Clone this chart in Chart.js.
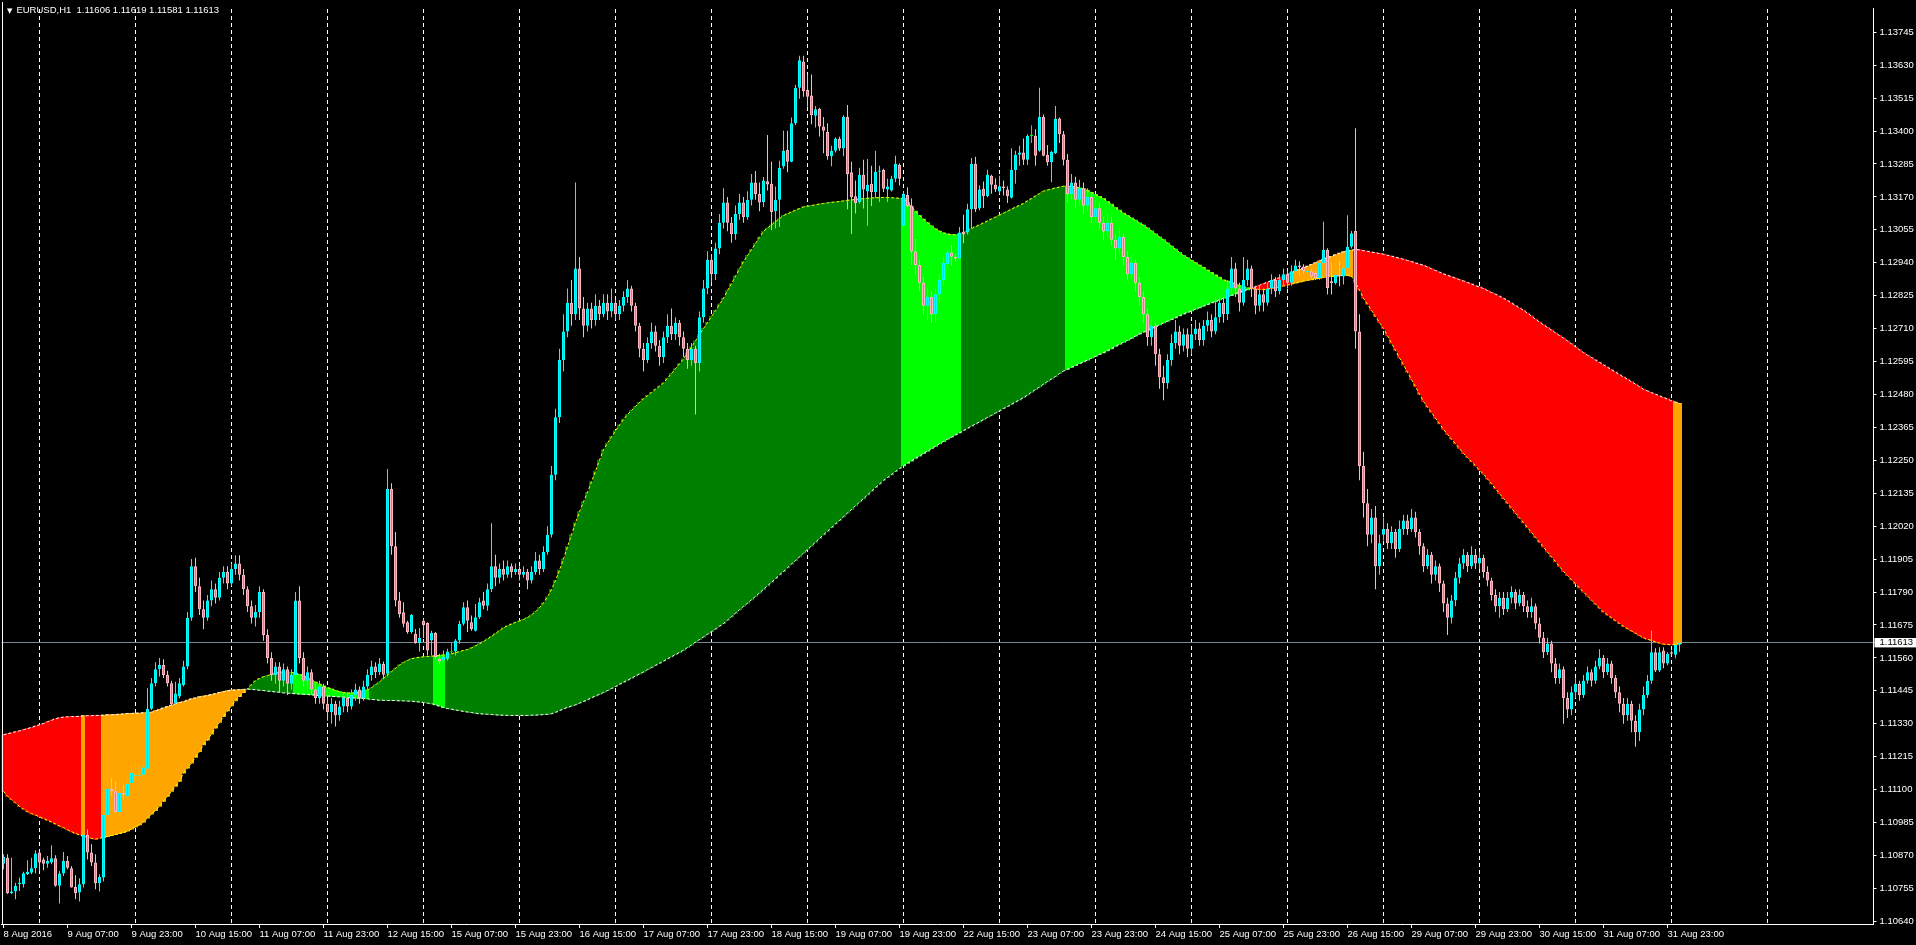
<!DOCTYPE html>
<html>
<head>
<meta charset="utf-8">
<script src="https://cdn.jsdelivr.net/npm/chart.js@4.4.1/dist/chart.umd.min.js"></script>
<style>
  html, body { margin:0; padding:0; background:#000; overflow:hidden; }
  #wrap { position:relative; width:1916px; height:945px; }
  #title { position:absolute; left:7px; top:4px; color:#fff; font:9.5px "Liberation Sans", Arial, sans-serif; white-space:pre; }
  #title .arrow { font:7px "DejaVu Sans", sans-serif; margin-right:4px; }
</style>
</head>
<body>
<div id="wrap">
  <canvas id="chart" width="1916" height="945"></canvas>
  <div id="title"><span class="arrow">▼</span>EURUSD,H1  1.11606 1.11619 1.11581 1.11613</div>
</div>
<script>
// ---- data ----
const tickLabels = ["8 Aug 2016","9 Aug 07:00","9 Aug 23:00","10 Aug 15:00","11 Aug 07:00","11 Aug 23:00",
  "12 Aug 15:00","15 Aug 07:00","15 Aug 23:00","16 Aug 15:00","17 Aug 07:00","17 Aug 23:00","18 Aug 15:00",
  "19 Aug 07:00","19 Aug 23:00","22 Aug 15:00","23 Aug 07:00","23 Aug 23:00","24 Aug 15:00","25 Aug 07:00",
  "25 Aug 23:00","26 Aug 15:00","29 Aug 07:00","29 Aug 23:00","30 Aug 15:00","31 Aug 07:00","31 Aug 23:00"];

const priceTicks = [1.10640,1.10755,1.10870,1.10985,1.11100,1.11215,1.11330,1.11445,1.11560,1.11675,1.11790,
  1.11905,1.12020,1.12135,1.12250,1.12365,1.12480,1.12595,1.12710,1.12825,1.12940,1.13055,1.13170,1.13285,
  1.13400,1.13515,1.13630,1.13745];
const lastPrice = 1.11613;

const opens = [
  1.10841,1.10862,1.10738,1.10744,1.10769,1.10769,1.10805,1.10810,1.10825,1.10880,
  1.10856,1.10841,1.10845,1.10860,1.10764,1.10807,1.10851,1.10825,1.10760,1.10741,
  1.10769,1.10941,1.10880,1.10845,1.10773,1.10793,1.11011,1.11103,1.11094,1.11022,
  1.11088,1.11077,1.11123,1.11148,1.11148,1.11152,1.11173,1.11382,1.11471,1.11520,
  1.11535,1.11500,1.11471,1.11402,1.11425,1.11465,1.11530,1.11700,1.11880,1.11810,
  1.11730,1.11700,1.11760,1.11800,1.11770,1.11840,1.11860,1.11820,1.11870,1.11890,
  1.11850,1.11800,1.11740,1.11700,1.11720,1.11790,1.11640,1.11560,1.11500,1.11530,
  1.11480,1.11520,1.11470,1.11500,1.11760,1.11560,1.11480,1.11510,1.11450,1.11420,
  1.11460,1.11400,1.11370,1.11400,1.11360,1.11390,1.11420,1.11390,1.11430,1.11450,
  1.11420,1.11460,1.11500,1.11530,1.11510,1.11539,1.11505,1.12150,1.11950,1.11760,
  1.11719,1.11684,1.11650,1.11644,1.11612,1.11690,1.11682,1.11621,1.11647,1.11557,
  1.11551,1.11557,1.11580,1.11582,1.11621,1.11679,1.11737,1.11684,1.11655,1.11702,
  1.11760,1.11742,1.11800,1.11880,1.11840,1.11870,1.11850,1.11880,1.11860,1.11870,
  1.11850,1.11860,1.11830,1.11860,1.11900,1.11870,1.11930,1.11990,1.12200,1.12400,
  1.12600,1.12700,1.12800,1.12760,1.12920,1.12780,1.12720,1.12780,1.12740,1.12790,
  1.12760,1.12800,1.12770,1.12800,1.12760,1.12790,1.12820,1.12850,1.12790,1.12720,
  1.12640,1.12600,1.12660,1.12700,1.12650,1.12610,1.12680,1.12720,1.12690,1.12730,
  1.12680,1.12640,1.12600,1.12640,1.12590,1.12750,1.12850,1.12950,1.12900,1.12990,
  1.13080,1.13150,1.13080,1.13040,1.13110,1.13150,1.13100,1.13160,1.13220,1.13180,
  1.13152,1.13225,1.13216,1.13120,1.13160,1.13276,1.13335,1.13293,1.13427,1.13551,
  1.13643,1.13543,1.13524,1.13453,1.13478,1.13416,1.13397,1.13312,1.13331,1.13372,
  1.13339,1.13449,1.13256,1.13172,1.13152,1.13247,1.13189,1.13216,1.13187,1.13258,
  1.13264,1.13196,1.13192,1.13233,1.13281,1.13069,1.13177,1.13140,1.12979,1.12932,
  1.12870,1.12790,1.12820,1.12760,1.12830,1.12880,1.12935,1.12976,1.12961,1.12955,
  1.13048,1.13046,1.13127,1.13285,1.13129,1.13198,1.13173,1.13244,1.13212,1.13189,
  1.13206,1.13196,1.13167,1.13264,1.13317,1.13325,1.13300,1.13383,1.13383,1.13331,
  1.13449,1.13317,1.13291,1.13323,1.13444,1.13389,1.13300,1.13180,1.13220,1.13160,
  1.13200,1.13140,1.13170,1.13100,1.13130,1.13080,1.13050,1.13080,1.13020,1.12990,
  1.13030,1.12960,1.12900,1.12940,1.12870,1.12820,1.12760,1.12680,1.12720,1.12620,
  1.12540,1.12520,1.12600,1.12660,1.12700,1.12650,1.12690,1.12640,1.12690,1.12710,
  1.12670,1.12720,1.12740,1.12700,1.12750,1.12800,1.12760,1.12850,1.12920,1.12850,
  1.12800,1.12880,1.12920,1.12850,1.12790,1.12830,1.12800,1.12850,1.12880,1.12840,
  1.12880,1.12900,1.12870,1.12910,1.12930,1.12927,1.12908,1.12910,1.12904,1.12887,
  1.12939,1.12985,1.12875,1.12869,1.12898,1.12892,1.12921,1.12996,1.13051,1.12700,
  1.12230,1.12100,1.11990,1.12050,1.11880,1.11990,1.12010,1.11960,1.12000,1.11940,
  1.12010,1.12040,1.12010,1.12050,1.12000,1.11950,1.11880,1.11920,1.11850,1.11880,
  1.11820,1.11750,1.11700,1.11760,1.11840,1.11890,1.11920,1.11880,1.11920,1.11890,
  1.11910,1.11860,1.11830,1.11780,1.11740,1.11770,1.11730,1.11770,1.11790,1.11750,
  1.11780,1.11740,1.11720,1.11740,1.11680,1.11630,1.11580,1.11610,1.11540,1.11490,
  1.11520,1.11420,1.11380,1.11440,1.11470,1.11430,1.11480,1.11510,1.11480,1.11530,
  1.11560,1.11510,1.11540,1.11490,1.11440,1.11400,1.11360,1.11400,1.11340,1.11300,
  1.11380,1.11430,1.11480,1.11580,1.11516,1.11586,1.11540,1.11580,1.11571,1.11606];
const highs = [
  1.10874,1.10874,1.10862,1.10775,1.10793,1.10813,1.10853,1.10862,1.10888,1.10885,
  1.10862,1.10868,1.10906,1.10871,1.10816,1.10882,1.10868,1.10833,1.10801,1.10790,
  1.10949,1.10961,1.10909,1.10874,1.10804,1.11013,1.11228,1.11141,1.11129,1.11123,
  1.11117,1.11158,1.11187,1.11193,1.11193,1.11193,1.11454,1.11490,1.11545,1.11560,
  1.11555,1.11515,1.11480,1.11477,1.11490,1.11550,1.11720,1.11905,1.11910,1.11840,
  1.11760,1.11780,1.11830,1.11820,1.11860,1.11880,1.11880,1.11890,1.11918,1.11918,
  1.11870,1.11810,1.11760,1.11745,1.11810,1.11800,1.11660,1.11580,1.11545,1.11545,
  1.11540,1.11530,1.11520,1.11790,1.11810,1.11580,1.11530,1.11520,1.11470,1.11480,
  1.11470,1.11420,1.11420,1.11410,1.11410,1.11440,1.11440,1.11450,1.11470,1.11460,
  1.11480,1.11520,1.11550,1.11545,1.11560,1.11547,1.12220,1.12170,1.12000,1.11790,
  1.11754,1.11690,1.11713,1.11661,1.11664,1.11696,1.11684,1.11655,1.11650,1.11574,
  1.11586,1.11592,1.11615,1.11626,1.11690,1.11754,1.11760,1.11708,1.11748,1.11770,
  1.11790,1.11820,1.12030,1.11920,1.11890,1.11900,1.11900,1.11890,1.11890,1.11880,
  1.11880,1.11870,1.11880,1.11930,1.11920,1.11950,1.12020,1.12230,1.12430,1.12640,
  1.12760,1.12850,1.12880,1.13220,1.12960,1.12820,1.12800,1.12800,1.12830,1.12810,
  1.12830,1.12830,1.12850,1.12810,1.12810,1.12840,1.12880,1.12860,1.12800,1.12730,
  1.12660,1.12680,1.12730,1.12720,1.12670,1.12700,1.12760,1.12780,1.12750,1.12740,
  1.12700,1.12660,1.12660,1.12650,1.12770,1.12880,1.12980,1.12970,1.13010,1.13110,
  1.13200,1.13170,1.13100,1.13140,1.13180,1.13170,1.13190,1.13250,1.13260,1.13220,
  1.13239,1.13386,1.13293,1.13206,1.13296,1.13401,1.13401,1.13447,1.13562,1.13663,
  1.13663,1.13597,1.13597,1.13487,1.13481,1.13449,1.13427,1.13349,1.13377,1.13380,
  1.13455,1.13491,1.13293,1.13227,1.13272,1.13300,1.13302,1.13279,1.13331,1.13279,
  1.13268,1.13233,1.13244,1.13314,1.13287,1.13190,1.13204,1.13164,1.13023,1.12950,
  1.12890,1.12850,1.12840,1.12850,1.12900,1.12960,1.12990,1.13002,1.12970,1.13065,
  1.13108,1.13146,1.13306,1.13310,1.13210,1.13224,1.13265,1.13247,1.13235,1.13244,
  1.13227,1.13207,1.13340,1.13331,1.13349,1.13374,1.13389,1.13420,1.13406,1.13551,
  1.13458,1.13351,1.13331,1.13487,1.13447,1.13400,1.13320,1.13250,1.13240,1.13230,
  1.13220,1.13200,1.13180,1.13160,1.13150,1.13100,1.13110,1.13100,1.13040,1.13060,
  1.13040,1.12980,1.12970,1.12950,1.12890,1.12840,1.12780,1.12750,1.12730,1.12640,
  1.12580,1.12620,1.12690,1.12740,1.12720,1.12710,1.12710,1.12720,1.12740,1.12730,
  1.12740,1.12770,1.12760,1.12820,1.12830,1.12820,1.12880,1.12960,1.12940,1.12870,
  1.12960,1.12950,1.12930,1.12860,1.12860,1.12850,1.12870,1.12900,1.12890,1.12900,
  1.12920,1.12910,1.12930,1.12950,1.12945,1.12935,1.12920,1.12918,1.12910,1.12950,
  1.13083,1.12991,1.12939,1.12950,1.12945,1.12933,1.13106,1.13051,1.13410,1.12760,
  1.12280,1.12150,1.12080,1.12090,1.11990,1.12050,1.12030,1.12020,1.12010,1.12040,
  1.12060,1.12060,1.12080,1.12070,1.12010,1.11960,1.11940,1.11930,1.11900,1.11890,
  1.11830,1.11770,1.11780,1.11860,1.11910,1.11940,1.11930,1.11950,1.11940,1.11930,
  1.11920,1.11880,1.11840,1.11800,1.11790,1.11790,1.11790,1.11810,1.11800,1.11800,
  1.11790,1.11760,1.11770,1.11750,1.11700,1.11650,1.11630,1.11620,1.11560,1.11540,
  1.11530,1.11440,1.11460,1.11490,1.11480,1.11500,1.11530,1.11520,1.11550,1.11590,
  1.11570,1.11560,1.11550,1.11500,1.11460,1.11420,1.11420,1.11410,1.11360,1.11400,
  1.11460,1.11500,1.11655,1.11594,1.11597,1.11597,1.11580,1.11586,1.11615,1.11619];
const lows = [
  1.10822,1.10735,1.10735,1.10717,1.10746,1.10758,1.10802,1.10804,1.10807,1.10816,
  1.10818,1.10827,1.10839,1.10761,1.10702,1.10798,1.10822,1.10758,1.10717,1.10709,
  1.10758,1.10856,1.10833,1.10752,1.10744,1.10779,1.11007,1.11077,1.11019,1.11007,
  1.11065,1.11062,1.11120,1.11129,1.11129,1.11146,1.11170,1.11378,1.11460,1.11495,
  1.11490,1.11460,1.11390,1.11396,1.11419,1.11460,1.11520,1.11690,1.11790,1.11710,
  1.11660,1.11690,1.11740,1.11750,1.11760,1.11820,1.11800,1.11810,1.11850,1.11830,
  1.11780,1.11720,1.11680,1.11670,1.11700,1.11620,1.11540,1.11480,1.11470,1.11440,
  1.11460,1.11430,1.11450,1.11490,1.11540,1.11460,1.11450,1.11430,1.11400,1.11400,
  1.11380,1.11340,1.11330,1.11320,1.11340,1.11370,1.11370,1.11380,1.11410,1.11400,
  1.11410,1.11450,1.11480,1.11490,1.11500,1.11485,1.11495,1.11920,1.11740,1.11700,
  1.11667,1.11644,1.11644,1.11609,1.11582,1.11629,1.11568,1.11568,1.11557,1.11539,
  1.11545,1.11551,1.11574,1.11568,1.11609,1.11673,1.11650,1.11655,1.11652,1.11696,
  1.11730,1.11725,1.11790,1.11810,1.11820,1.11830,1.11840,1.11840,1.11850,1.11830,
  1.11840,1.11800,1.11820,1.11850,1.11850,1.11860,1.11920,1.11980,1.12180,1.12380,
  1.12560,1.12680,1.12720,1.12740,1.12740,1.12680,1.12700,1.12710,1.12720,1.12740,
  1.12750,1.12740,1.12750,1.12740,1.12740,1.12770,1.12800,1.12770,1.12700,1.12610,
  1.12560,1.12590,1.12640,1.12630,1.12580,1.12590,1.12660,1.12670,1.12670,1.12650,
  1.12610,1.12570,1.12580,1.12410,1.12560,1.12730,1.12830,1.12870,1.12880,1.12970,
  1.13060,1.13050,1.13010,1.13020,1.13090,1.13080,1.13090,1.13140,1.13160,1.13120,
  1.13135,1.13192,1.13054,1.13060,1.13065,1.13268,1.13256,1.13291,1.13420,1.13513,
  1.13520,1.13485,1.13424,1.13412,1.13381,1.13322,1.13300,1.13277,1.13325,1.13331,
  1.13312,1.13127,1.13040,1.13112,1.13146,1.13129,1.13069,1.13138,1.13166,1.13152,
  1.13187,1.13152,1.13189,1.13221,1.13210,1.13060,1.13129,1.12932,1.12900,1.12840,
  1.12760,1.12740,1.12730,1.12730,1.12800,1.12860,1.12920,1.12930,1.12945,1.12950,
  1.13008,1.13039,1.13060,1.13117,1.13123,1.13131,1.13169,1.13181,1.13187,1.13181,
  1.13175,1.13149,1.13164,1.13216,1.13279,1.13281,1.13281,1.13358,1.13279,1.13328,
  1.13312,1.13279,1.13221,1.13320,1.13358,1.13280,1.13150,1.13160,1.13130,1.13140,
  1.13110,1.13120,1.13080,1.13080,1.13060,1.13020,1.13030,1.13000,1.12950,1.12970,
  1.12930,1.12880,1.12880,1.12840,1.12790,1.12730,1.12650,1.12650,1.12580,1.12500,
  1.12460,1.12500,1.12580,1.12640,1.12620,1.12630,1.12610,1.12620,1.12670,1.12650,
  1.12650,1.12700,1.12680,1.12690,1.12730,1.12730,1.12740,1.12830,1.12820,1.12770,
  1.12790,1.12860,1.12820,1.12760,1.12770,1.12770,1.12790,1.12830,1.12820,1.12830,
  1.12860,1.12850,1.12860,1.12890,1.12895,1.12900,1.12900,1.12885,1.12880,1.12881,
  1.12933,1.12829,1.12829,1.12864,1.12858,1.12864,1.12916,1.12990,1.12640,1.12180,
  1.12050,1.11950,1.11960,1.11800,1.11850,1.11970,1.11940,1.11940,1.11910,1.11930,
  1.11990,1.11990,1.12000,1.11980,1.11920,1.11860,1.11870,1.11820,1.11830,1.11790,
  1.11720,1.11640,1.11680,1.11740,1.11820,1.11870,1.11860,1.11870,1.11870,1.11870,
  1.11840,1.11810,1.11760,1.11720,1.11700,1.11710,1.11720,1.11750,1.11730,1.11740,
  1.11720,1.11700,1.11700,1.11660,1.11610,1.11560,1.11570,1.11510,1.11470,1.11470,
  1.11330,1.11350,1.11360,1.11420,1.11410,1.11420,1.11470,1.11460,1.11470,1.11520,
  1.11490,1.11500,1.11470,1.11420,1.11370,1.11330,1.11340,1.11300,1.11250,1.11270,
  1.11360,1.11420,1.11470,1.11511,1.11511,1.11524,1.11534,1.11568,1.11559,1.11581];
const closes = [
  1.10865,1.10738,1.10744,1.10764,1.10775,1.10808,1.10813,1.10825,1.10877,1.10845,
  1.10841,1.10851,1.10860,1.10764,1.10807,1.10851,1.10827,1.10758,1.10738,1.10769,
  1.10941,1.10880,1.10845,1.10773,1.10795,1.11011,1.11103,1.11094,1.11022,1.11088,
  1.11083,1.11120,1.11158,1.11152,1.11152,1.11178,1.11382,1.11471,1.11520,1.11535,
  1.11500,1.11471,1.11398,1.11436,1.11471,1.11530,1.11700,1.11880,1.11810,1.11730,
  1.11700,1.11760,1.11800,1.11770,1.11840,1.11860,1.11820,1.11870,1.11890,1.11850,
  1.11800,1.11740,1.11700,1.11720,1.11790,1.11640,1.11560,1.11500,1.11530,1.11480,
  1.11520,1.11470,1.11500,1.11760,1.11560,1.11480,1.11510,1.11450,1.11420,1.11460,
  1.11400,1.11370,1.11400,1.11360,1.11390,1.11420,1.11390,1.11430,1.11450,1.11420,
  1.11460,1.11500,1.11530,1.11510,1.11540,1.11501,1.12150,1.11950,1.11760,1.11713,
  1.11679,1.11650,1.11710,1.11612,1.11629,1.11675,1.11586,1.11647,1.11563,1.11547,
  1.11563,1.11582,1.11580,1.11621,1.11679,1.11737,1.11690,1.11661,1.11702,1.11754,
  1.11742,1.11800,1.11880,1.11840,1.11870,1.11850,1.11880,1.11860,1.11870,1.11850,
  1.11860,1.11830,1.11860,1.11900,1.11870,1.11930,1.11990,1.12200,1.12400,1.12600,
  1.12700,1.12800,1.12760,1.12920,1.12780,1.12720,1.12780,1.12740,1.12790,1.12760,
  1.12800,1.12770,1.12800,1.12760,1.12790,1.12820,1.12850,1.12790,1.12720,1.12640,
  1.12600,1.12660,1.12700,1.12650,1.12610,1.12680,1.12720,1.12690,1.12730,1.12680,
  1.12640,1.12600,1.12640,1.12590,1.12750,1.12850,1.12950,1.12900,1.12990,1.13080,
  1.13150,1.13080,1.13040,1.13110,1.13150,1.13100,1.13160,1.13220,1.13180,1.13150,
  1.13227,1.13213,1.13117,1.13160,1.13271,1.13331,1.13293,1.13427,1.13551,1.13647,
  1.13539,1.13520,1.13455,1.13476,1.13416,1.13401,1.13312,1.13331,1.13374,1.13339,
  1.13450,1.13250,1.13169,1.13149,1.13247,1.13196,1.13212,1.13187,1.13258,1.13262,
  1.13198,1.13206,1.13233,1.13285,1.13233,1.13181,1.13138,1.12979,1.12932,1.12870,
  1.12790,1.12820,1.12760,1.12830,1.12880,1.12940,1.12976,1.12961,1.12955,1.13046,
  1.13039,1.13127,1.13285,1.13127,1.13196,1.13173,1.13247,1.13212,1.13196,1.13207,
  1.13201,1.13173,1.13264,1.13317,1.13325,1.13300,1.13383,1.13383,1.13314,1.13449,
  1.13314,1.13291,1.13328,1.13443,1.13389,1.13300,1.13180,1.13220,1.13160,1.13200,
  1.13140,1.13170,1.13100,1.13130,1.13080,1.13050,1.13080,1.13020,1.12990,1.13030,
  1.12960,1.12900,1.12940,1.12870,1.12820,1.12760,1.12680,1.12720,1.12620,1.12540,
  1.12520,1.12600,1.12660,1.12700,1.12650,1.12690,1.12640,1.12690,1.12710,1.12670,
  1.12720,1.12740,1.12700,1.12750,1.12800,1.12760,1.12850,1.12920,1.12850,1.12800,
  1.12880,1.12920,1.12850,1.12790,1.12830,1.12800,1.12850,1.12880,1.12840,1.12880,
  1.12900,1.12870,1.12910,1.12930,1.12925,1.12910,1.12912,1.12892,1.12887,1.12939,
  1.12985,1.12852,1.12869,1.12898,1.12892,1.12921,1.12996,1.13043,1.12700,1.12230,
  1.12100,1.11990,1.12050,1.11880,1.11960,1.12010,1.11960,1.12000,1.11940,1.12010,
  1.12040,1.12010,1.12050,1.12000,1.11950,1.11880,1.11920,1.11850,1.11880,1.11820,
  1.11750,1.11700,1.11760,1.11840,1.11890,1.11920,1.11880,1.11920,1.11890,1.11910,
  1.11860,1.11830,1.11780,1.11740,1.11770,1.11730,1.11770,1.11790,1.11750,1.11780,
  1.11740,1.11720,1.11740,1.11680,1.11630,1.11580,1.11610,1.11540,1.11490,1.11520,
  1.11420,1.11380,1.11440,1.11470,1.11430,1.11480,1.11510,1.11480,1.11530,1.11560,
  1.11510,1.11540,1.11490,1.11440,1.11400,1.11360,1.11400,1.11340,1.11300,1.11380,
  1.11430,1.11480,1.11580,1.11516,1.11580,1.11540,1.11574,1.11574,1.11605,1.11613];

// slow band line (white) and fast band line (yellow)
const slowLine = [1.11291,1.11295,1.11298,1.11302,1.11305,1.11309,1.11313,1.11317,1.11322,1.11326,1.11331,1.11337,
  1.11342,1.11347,1.11351,1.11353,1.11354,1.11355,1.11355,1.11356,1.11358,1.11358,1.11358,1.11359,1.11359,1.11360,
  1.11361,1.11361,1.11362,1.11363,1.11364,1.11366,1.11366,1.11367,1.11367,1.11368,1.11369,1.11370,1.11375,1.11380,
  1.11385,1.11390,1.11395,1.11399,1.11404,1.11407,1.11412,1.11417,1.11420,1.11424,1.11426,1.11429,1.11432,1.11435,
  1.11439,1.11442,1.11445,1.11447,1.11448,1.11449,1.11450,1.11451,
  1.11450,1.11449,1.11447,1.11446,1.11444,1.11443,1.11441,1.11440,1.11438,1.11437,1.11436,1.11435,1.11434,1.11433,
  1.11432,1.11431,1.11430,1.11429,1.11428,1.11427,1.11426,1.11425,1.11424,1.11423,1.11422,1.11421,1.11420,1.11419,
  1.11418,1.11417,1.11415,1.11414,1.11412,1.11412,1.11411,1.11411,1.11411,1.11410,1.11410,1.11409,1.11409,1.11407,
  1.11406,1.11404,1.11402,1.11400,1.11396,1.11392,1.11387,1.11383,1.11381,1.11378,1.11376,1.11373,1.11371,1.11369,
  1.11367,1.11365,1.11364,1.11363,1.11362,1.11361,1.11360,1.11360,1.11359,1.11359,1.11359,1.11359,1.11359,1.11359,
  1.11360,1.11360,1.11361,1.11362,1.11363,1.11365,1.11370,1.11376,1.11382,1.11387,1.11392,1.11396,1.11402,1.11408,
  1.11414,1.11421,1.11427,1.11433,1.11439,1.11446,1.11453,1.11460,1.11468,1.11475,1.11482,1.11489,1.11497,1.11504,
  1.11511,1.11519,1.11526,1.11534,1.11541,1.11549,1.11557,1.11564,1.11572,1.11579,1.11587,1.11596,1.11605,1.11615,
  1.11624,1.11633,1.11643,1.11652,1.11661,1.11671,1.11680,1.11692,1.11704,1.11716,1.11728,1.11740,1.11751,1.11763,
  1.11775,1.11787,1.11799,1.11812,1.11824,1.11837,1.11850,1.11862,1.11875,1.11888,1.11900,1.11913,1.11926,1.11939,
  1.11951,1.11964,1.11977,1.11990,1.12002,1.12015,1.12028,1.12040,1.12053,1.12066,1.12078,1.12091,1.12104,1.12116,
  1.12129,1.12142,1.12155,1.12167,1.12180,1.12190,1.12200,1.12211,1.12221,1.12231,1.12240,1.12248,1.12257,1.12265,
  1.12274,1.12282,1.12291,1.12299,1.12308,1.12316,1.12324,1.12331,1.12339,1.12346,1.12354,1.12362,1.12369,1.12377,
  1.12384,1.12392,1.12400,1.12407,1.12415,1.12423,1.12431,1.12438,1.12446,1.12454,1.12461,1.12469,1.12478,1.12488,
  1.12497,1.12506,1.12516,1.12525,1.12534,1.12543,1.12553,1.12562,1.12568,1.12575,1.12581,1.12588,1.12594,1.12600,
  1.12607,1.12613,1.12620,1.12626,1.12633,1.12640,1.12648,1.12655,1.12662,1.12669,1.12676,1.12684,1.12691,1.12698,
  1.12704,1.12711,1.12717,1.12723,1.12730,1.12736,1.12742,1.12748,1.12755,1.12761,1.12767,1.12772,1.12778,1.12783,
  1.12789,1.12794,1.12800,1.12805,1.12811,1.12816,1.12821,1.12826,1.12832,1.12837,1.12842,1.12846,1.12850,1.12856,
  1.12861,1.12867,1.12872,1.12877,1.12882,1.12888,1.12893,1.12899,1.12905,1.12911,1.12916,1.12922,1.12928,1.12934,
  1.12940,1.12946,1.12952,1.12957,1.12962,1.12968,1.12973,1.12978,1.12981,1.12984,1.12986,1.12985,1.12982,1.12980,
  1.12977,1.12975,1.12972,1.12970,1.12966,1.12963,1.12959,1.12956,1.12952,1.12948,1.12944,1.12939,1.12935,1.12931,
  1.12925,1.12919,1.12913,1.12907,1.12901,1.12896,1.12891,1.12886,1.12881,1.12876,1.12871,1.12866,1.12860,1.12855,
  1.12850,1.12843,1.12836,1.12830,1.12823,1.12816,1.12808,1.12799,1.12791,1.12782,1.12774,1.12764,1.12754,1.12743,
  1.12733,1.12723,1.12714,1.12705,1.12695,1.12686,1.12677,1.12667,1.12657,1.12646,1.12636,1.12626,1.12617,1.12609,
  1.12600,1.12592,1.12583,1.12575,1.12566,1.12558,1.12549,1.12541,1.12533,1.12524,1.12516,1.12507,1.12498,1.12492,
  1.12486,1.12481,1.12475,1.12469,1.12464,1.12458,1.12453,1.12448];
const fastLine = [1.11094,1.11077,1.11065,1.11054,1.11041,1.11032,1.11023,1.11016,1.11011,1.11005,1.10999,1.10993,
  1.10987,1.10980,1.10973,1.10967,1.10960,1.10953,1.10947,1.10942,1.10938,1.10933,1.10930,1.10927,1.10930,1.10933,
  1.10936,1.10940,1.10943,1.10947,1.10950,1.10955,1.10962,1.10970,1.10977,1.10987,1.11001,1.11015,1.11027,1.11042,
  1.11059,1.11077,1.11094,1.11112,1.11129,1.11158,1.11175,1.11193,1.11213,1.11233,1.11257,1.11273,1.11294,1.11315,
  1.11335,1.11355,1.11375,1.11393,1.11410,1.11425,1.11439,1.11451,
  1.11466,1.11480,1.11488,1.11494,1.11498,1.11502,1.11506,1.11509,1.11511,1.11511,1.11509,1.11506,1.11502,1.11496,
  1.11489,1.11482,1.11475,1.11468,1.11462,1.11456,1.11451,1.11446,1.11442,1.11439,1.11437,1.11437,1.11438,1.11441,
  1.11444,1.11448,1.11456,1.11466,1.11476,1.11488,1.11500,1.11512,1.11524,1.11535,1.11544,1.11551,1.11557,1.11560,
  1.11562,1.11564,1.11565,1.11566,1.11567,1.11568,1.11570,1.11571,1.11574,1.11578,1.11582,1.11586,1.11589,1.11595,
  1.11602,1.11609,1.11617,1.11626,1.11635,1.11645,1.11655,1.11665,1.11672,1.11678,1.11684,1.11689,1.11694,1.11701,
  1.11710,1.11721,1.11735,1.11752,1.11773,1.11799,1.11830,1.11866,1.11905,1.11948,1.11990,1.12032,1.12070,1.12105,
  1.12138,1.12175,1.12212,1.12250,1.12287,1.12310,1.12332,1.12353,1.12373,1.12393,1.12410,1.12424,1.12438,1.12452,
  1.12465,1.12476,1.12487,1.12498,1.12509,1.12520,1.12537,1.12553,1.12570,1.12587,1.12604,1.12625,1.12646,1.12667,
  1.12689,1.12710,1.12731,1.12752,1.12773,1.12795,1.12816,1.12842,1.12867,1.12893,1.12918,1.12944,1.12965,1.12986,
  1.13007,1.13029,1.13050,1.13061,1.13072,1.13083,1.13094,1.13105,1.13111,1.13117,1.13123,1.13129,1.13135,1.13137,
  1.13140,1.13142,1.13145,1.13147,1.13149,1.13151,1.13152,1.13154,1.13156,1.13158,1.13159,1.13161,1.13162,1.13164,
  1.13165,1.13166,1.13167,1.13167,1.13168,1.13168,1.13167,1.13166,1.13165,1.13164,1.13150,1.13135,1.13120,1.13105,
  1.13092,1.13080,1.13068,1.13058,1.13050,1.13044,1.13040,1.13038,1.13038,1.13040,1.13045,1.13052,1.13059,1.13066,
  1.13072,1.13079,1.13086,1.13093,1.13099,1.13106,1.13113,1.13120,1.13127,1.13134,1.13140,1.13147,1.13156,1.13164,
  1.13173,1.13181,1.13190,1.13194,1.13197,1.13201,1.13204,1.13207,1.13207,1.13206,1.13204,1.13201,1.13198,1.13192,
  1.13185,1.13178,1.13171,1.13164,1.13154,1.13144,1.13133,1.13123,1.13113,1.13105,1.13096,1.13088,1.13079,1.13071,
  1.13061,1.13051,1.13040,1.13030,1.13020,1.13009,1.12998,1.12987,1.12976,1.12965,1.12957,1.12948,1.12940,1.12931,
  1.12923,1.12914,1.12906,1.12897,1.12889,1.12880,1.12875,1.12870,1.12865,1.12860,1.12855,1.12852,1.12850,1.12848,
  1.12847,1.12846,1.12848,1.12851,1.12853,1.12856,1.12859,1.12862,1.12866,1.12869,1.12873,1.12876,1.12879,1.12881,
  1.12884,1.12886,1.12889,1.12891,1.12892,1.12894,1.12895,1.12897,1.12896,1.12893,1.12870,1.12845,1.12816,1.12795,
  1.12774,1.12752,1.12731,1.12710,1.12685,1.12659,1.12634,1.12608,1.12583,1.12558,1.12532,1.12507,1.12481,1.12456,
  1.12436,1.12417,1.12397,1.12378,1.12358,1.12341,1.12324,1.12308,1.12291,1.12274,1.12260,1.12245,1.12231,1.12216,
  1.12202,1.12185,1.12168,1.12151,1.12134,1.12117,1.12100,1.12083,1.12066,1.12049,1.12032,1.12015,1.11998,1.11981,
  1.11964,1.11947,1.11930,1.11913,1.11896,1.11879,1.11862,1.11848,1.11833,1.11819,1.11804,1.11790,1.11776,1.11762,
  1.11748,1.11734,1.11720,1.11710,1.11700,1.11690,1.11680,1.11670,1.11662,1.11654,1.11646,1.11638,1.11630,1.11625,
  1.11621,1.11616,1.11612,1.11608,1.11607,1.11606,1.11607,1.11610];

// band state runs: [first bar, state]  R=falling below, O=rising below, G=up trend, L=up trend weakening
const bandRuns = [[0,"R"],[20,"O"],[21,"R"],[25,"O"],[61,"G"],[73,"L"],[92,"G"],[108,"L"],[111,"G"],
  [225,"L"],[240,"G"],[266,"L"],[312,"R"],[323,"O"],[338,"R"],[418,"O"]];

// ---- layout helpers ----
const NBARS = slowLine.length;     // 420
const SLOTS = 468;                 // bars + empty shift on the right
const LABEL_EVERY = 16;
const GRID_FIRST = 9, GRID_EVERY = 24, GRID_LAST = 441;
const Y_MIN = 1.106306, Y_MAX = 1.138272;

const bandColors = { R:"#FF0000", O:"#FFA500", G:"#008000", L:"#00FF00" };
const BULL = "#00FFFF", BULL_FILL = "#00D8F0", BEAR = "#FFB6C1", BEAR_FILL = "#F07088", DOJI = "#00FF00";

const labels = [];
for (let i = 0; i < SLOTS; i++) {
  labels.push(i % LABEL_EVERY === 0 && i / LABEL_EVERY < tickLabels.length ? tickLabels[i / LABEL_EVERY] : "");
}

function stateAt(i) {
  let s = bandRuns[0][1];
  bandRuns.forEach(r => { if (i >= r[0]) s = r[1]; });
  return s;
}

const bandData = [], bandFill = [];
for (let i = 0; i < NBARS; i++) {
  bandData.push([slowLine[i], fastLine[i]]);
  bandFill.push(bandColors[stateAt(i)]);
}

const wickData = [], bodyData = [], wickColor = [], bodyFill = [], bodyBorder = [];
for (let i = 0; i < closes.length; i++) {
  const doji = closes[i] === opens[i];
  const up = closes[i] > opens[i];
  const edge = doji ? DOJI : (up ? BULL : BEAR);
  wickData.push([lows[i], highs[i]]);
  bodyData.push([opens[i], closes[i]]);
  wickColor.push(edge);
  bodyBorder.push(edge);
  bodyFill.push(doji ? DOJI : (up ? BULL_FILL : BEAR_FILL));
}

const axisFont = { family: "'Liberation Sans', Arial, sans-serif", size: 9.5 };

// black background and the white left edge of the plot
const framePlugin = {
  id: "frame",
  beforeDraw(chart) {
    const c = chart.ctx;
    c.save();
    c.fillStyle = "#000";
    c.fillRect(0, 0, chart.width, chart.height);
    c.restore();
  },
  afterDraw(chart) {
    const a = chart.chartArea, c = chart.ctx;
    c.save();
    c.fillStyle = "#fff";
    c.fillRect(2, 2, 1, Math.round(a.bottom) - 2);
    c.restore();
  }
};

new Chart(document.getElementById("chart"), {
  data: {
    labels: labels,
    datasets: [
      { type: "bar", label: "body", data: bodyData, backgroundColor: bodyFill, borderColor: bodyBorder,
        borderWidth: 1, borderSkipped: false, barThickness: 3, minBarLength: 1, grouped: false,
        inflateAmount: 0, order: 0 },
      { type: "bar", label: "wick", data: wickData, backgroundColor: wickColor, borderWidth: 0,
        barThickness: 1, minBarLength: 1, grouped: false, inflateAmount: 0, order: 1 },
      { type: "line", label: "fast", data: fastLine, borderColor: "#FFFF00", borderWidth: 1,
        borderDash: [3, 2], pointRadius: 0, tension: 0, order: 2 },
      { type: "line", label: "slow", data: slowLine, borderColor: "#FFFFFF", borderWidth: 1,
        borderDash: [3, 2], pointRadius: 0, tension: 0, order: 3 },
      { type: "bar", label: "band", data: bandData, backgroundColor: bandFill, borderWidth: 0,
        barPercentage: 1, categoryPercentage: 1, grouped: false, inflateAmount: 0.5, order: 4 }
    ]
  },
  options: {
    responsive: false,
    animation: false,
    events: [],
    layout: { padding: { left: 1.5, top: 2, right: 0, bottom: 0 } },
    plugins: { legend: { display: false }, tooltip: { enabled: false } },
    scales: {
      x: {
        type: "category", offset: true, position: "bottom",
        afterFit: s => { s.height = 21; },
        afterBuildTicks: s => { s.ticks = s.ticks.filter(t => labels[t.value] !== ""); },
        ticks: { autoSkip: false, maxRotation: 0, minRotation: 0, align: "start", color: "#fff",
          font: axisFont, padding: 1 },
        grid: { drawOnChartArea: false, drawTicks: true, tickLength: 4, tickColor: "#fff", offset: false },
        border: { color: "#fff", width: 1 }
      },
      xg: {
        type: "category", offset: true, position: "top",
        afterFit: s => { s.height = 0; },
        afterBuildTicks: s => {
          s.ticks = s.ticks.filter(t => t.value >= GRID_FIRST && t.value <= GRID_LAST &&
            (t.value - GRID_FIRST) % GRID_EVERY === 0);
        },
        ticks: { display: false, autoSkip: false },
        grid: { color: "#fff", lineWidth: 1, offset: false, drawTicks: false },
        border: { display: false, dash: [4, 3] }
      },
      y: {
        type: "linear", position: "right", min: Y_MIN, max: Y_MAX,
        afterFit: s => { s.width = 42.5; },
        afterBuildTicks: s => { s.ticks = priceTicks.concat([lastPrice]).map(v => ({ value: v })); },
        ticks: {
          autoSkip: false, padding: 3, font: axisFont,
          color: c => c.tick && c.tick.value === lastPrice ? "#000" : "#fff",
          showLabelBackdrop: c => !!(c.tick && c.tick.value === lastPrice),
          backdropColor: "#fff",
          backdropPadding: { top: -1, bottom: -1, left: 5, right: 6 },
          callback: v => v.toFixed(5)
        },
        grid: {
          drawOnChartArea: true, tickLength: 3, lineWidth: 1,
          color: c => c.tick && c.tick.value === lastPrice ? "#778899" : "rgba(0,0,0,0)",
          tickColor: c => c.tick && c.tick.value === lastPrice ? "#778899" : "#fff"
        },
        border: { color: "#fff", width: 1 }
      }
    }
  },
  plugins: [framePlugin]
});
</script>
</body>
</html>
